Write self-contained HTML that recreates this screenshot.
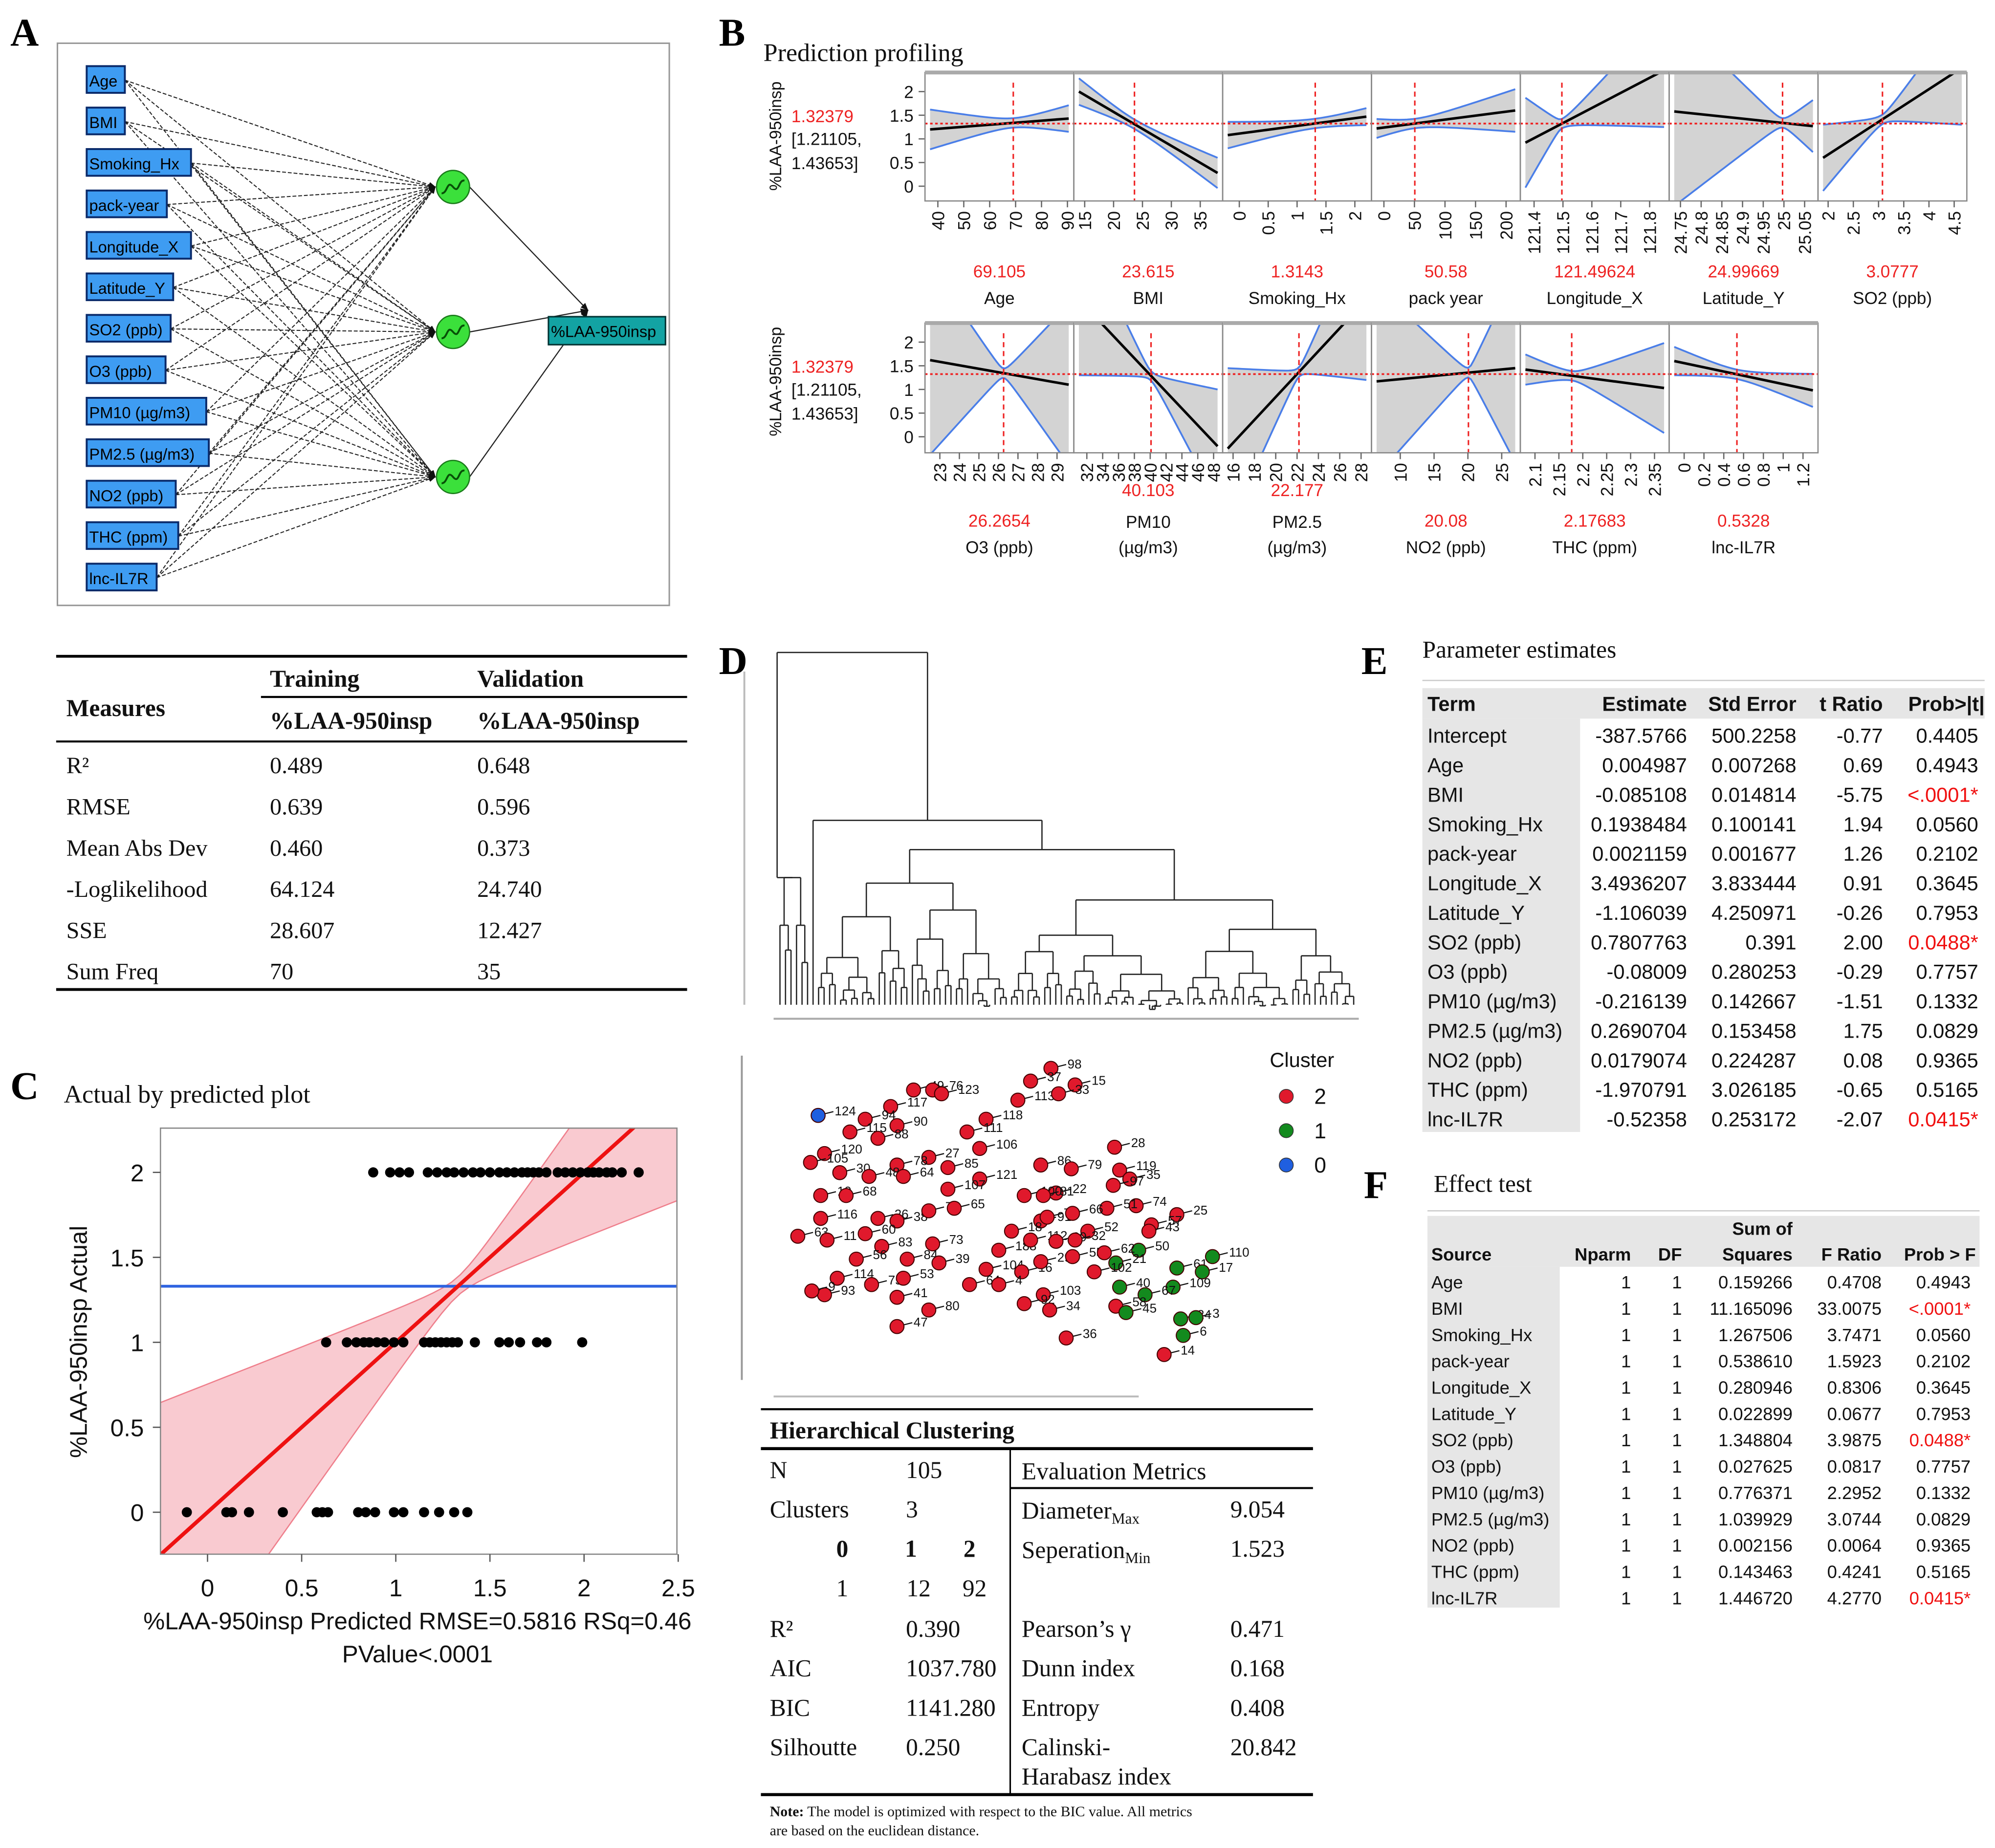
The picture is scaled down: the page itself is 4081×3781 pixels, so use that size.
<!DOCTYPE html>
<html><head><meta charset="utf-8">
<style>
html,body{margin:0;padding:0;background:#fff;}
svg{display:block;}
</style></head>
<body>
<svg id="fig" width="4081" height="3781" viewBox="0 0 1568 1453" xmlns="http://www.w3.org/2000/svg">
<rect x="0" y="0" width="1568" height="1453" fill="#fff"/>
</svg>
<script>
const NS='http://www.w3.org/2000/svg';
const svg=document.getElementById('fig');
function mk(tag,attrs,parent,text){const e=document.createElementNS(NS,tag);for(const k in attrs)e.setAttribute(k,attrs[k]);if(text!==undefined)e.textContent=text;(parent||svg).appendChild(e);return e;}
function txt(x,y,s,size,opt,parent){opt=opt||{};const a={x:x,y:y,'font-size':size,'font-family':opt.serif?'"Liberation Serif",serif':'"Liberation Sans","DejaVu Sans",sans-serif',fill:opt.fill||'#111'};if(opt.anchor)a['text-anchor']=opt.anchor;if(opt.weight)a['font-weight']=opt.weight;if(opt.tr)a.transform=opt.tr;return mk('text',a,parent,s);}

/* ---------- panel letters ---------- */
const letters=[['A',8,36],['B',565,36],['C',8,864],['D',565,530],['E',1070,530],['F',1072,942]];
letters.forEach(l=>{const t=txt(l[1],l[2],l[0],31,{serif:1,weight:'bold',fill:'#000'});

});

/* ---------- Panel A network ---------- */
const gA=mk('g',{});


mk('rect',{x:45,y:34,width:481,height:442,fill:'#fff',stroke:'#999','stroke-width':1.2},gA);
const inputs=['Age','BMI','Smoking_Hx','pack-year','Longitude_X','Latitude_Y','SO2 (ppb)','O3 (ppb)','PM10 (µg/m3)','PM2.5 (µg/m3)','NO2 (ppb)','THC (ppm)','lnc-IL7R'];
const inW=[30,30,82,63,82,68,66,62,94,96,70,72,55];
const hidden=[147,261,375];
mk('defs',{},svg).innerHTML='<marker id="arr" viewBox="0 0 10 10" refX="9" refY="5" markerWidth="7" markerHeight="7" orient="auto"><path d="M0,1 L10,5 L0,9 z" fill="#111"/></marker>';
inputs.forEach((s,i)=>{const cy=63+i*32.6;hidden.forEach(hy=>{mk('line',{x1:68+inW[i],y1:cy,x2:342,y2:hy,stroke:'#222','stroke-width':0.8,'stroke-dasharray':'3,1.5','marker-end':'url(#arr)'},gA);});});
inputs.forEach((s,i)=>{const cy=63+i*32.6;const g=mk('g',{},gA);


mk('rect',{x:68,y:cy-11,width:inW[i],height:21,fill:'#3e9cf2',stroke:'#0a2a6a','stroke-width':1.5},g);
txt(70,cy+5,s,12.5,{fill:'#000'},g);});
hidden.forEach((hy,i)=>{const g=mk('g',{},gA);


mk('line',{x1:369,y1:hy,x2:462,y2:244,stroke:'#222','stroke-width':0.9,'marker-end':'url(#arr)'},g);
mk('circle',{cx:356,cy:hy,r:13,fill:'#3be03b',stroke:'#1a7a1a','stroke-width':1},g);
mk('path',{d:`M${347},${hy+5} C${352},${hy+5} ${351},${hy-6} ${356},${hy} S${360},${hy-6} ${365},${hy-5}`,fill:'none',stroke:'#075007','stroke-width':1.5},g);});
const outB=mk('g',{},gA);


mk('rect',{x:431,y:249,width:92,height:22,fill:'#13a3a3',stroke:'#033','stroke-width':1.2},outB);
txt(433,265,'%LAA-950insp',12.5,{fill:'#000'},outB);

/* ---------- Table A ---------- */
const gT=mk('g',{});


mk('line',{x1:44,y1:516,x2:540,y2:516,stroke:'#000','stroke-width':2.2},gT);
mk('line',{x1:205,y1:548,x2:540,y2:548,stroke:'#000','stroke-width':1.6},gT);
mk('line',{x1:44,y1:583,x2:540,y2:583,stroke:'#000','stroke-width':1.6},gT);
mk('line',{x1:44,y1:778,x2:540,y2:778,stroke:'#000','stroke-width':2.2},gT);
txt(212,540,'Training',19,{serif:1,weight:'bold'},gT);txt(375,540,'Validation',19,{serif:1,weight:'bold'},gT);
txt(52,563,'Measures',19,{serif:1,weight:'bold'},gT);
txt(212,573,'%LAA-950insp',19,{serif:1,weight:'bold'},gT);txt(375,573,'%LAA-950insp',19,{serif:1,weight:'bold'},gT);
const mRows=[['R²','0.489','0.648'],['RMSE','0.639','0.596'],['Mean Abs Dev','0.460','0.373'],['-Loglikelihood','64.124','24.740'],['SSE','28.607','12.427'],['Sum Freq','70','35']];
mRows.forEach((r,i)=>{const y=608+i*32.4;txt(52,y,r[0],18.5,{serif:1},gT);txt(212,y,r[1],18.5,{serif:1},gT);txt(375,y,r[2],18.5,{serif:1},gT);});

/* ---------- Panel C actual by predicted ---------- */
const predRow2=[0.88,0.97,1.02,1.07,1.17,1.22,1.27,1.31,1.36,1.41,1.45,1.5,1.55,1.59,1.63,1.67,1.7,1.73,1.76,1.8,1.86,1.9,1.94,1.98,2.02,2.05,2.08,2.12,2.15,2.2,2.29];
const predRow1=[0.63,0.74,0.79,0.83,0.86,0.9,0.94,0.99,1.04,1.15,1.18,1.21,1.24,1.27,1.3,1.33,1.42,1.55,1.6,1.66,1.75,1.8,1.99];
const predRow0=[-0.11,0.1,0.13,0.22,0.4,0.58,0.61,0.64,0.8,0.84,0.89,0.99,1.04,1.15,1.23,1.31,1.38];
const actualLevels=[2,1,0];
const meanActual=1.33;
const cXTicks=[0,0.5,1,1.5,2,2.5];
const cYTicks=[0,0.5,1,1.5,2];
const cx=v=>163+v*148, cy=v=>1189-v*133.6;
const gC=mk('g',{});


txt(50,867,'Actual by predicted plot',20,{serif:1},gC);
mk('clipPath',{id:'clipC'},gC).innerHTML='<rect x="126" y="887" width="406" height="335"/>';
const pc=mk('g',{'clip-path':'url(#clipC)'},gC);
let up=[],lo=[];for(let i=0;i<=60;i++){const x=-0.3+i*2.9/60;const hw=Math.sqrt(0.003+0.32*(x-1.33)*(x-1.33));up.push([cx(x),cy(x+hw)]);lo.push([cx(x),cy(x-hw)]);}
const band=mk('polygon',{points:up.concat(lo.reverse()).map(p=>p.join(',')).join(' '),fill:'#f7b8c0','fill-opacity':0.75,stroke:'#ef7f8c','stroke-width':1},pc);


const hl=mk('line',{x1:126,x2:532,y1:cy(meanActual),y2:cy(meanActual),stroke:'#2e63e0','stroke-width':2.2},pc);


const fl=mk('line',{x1:cx(-0.3),y1:cy(-0.3),x2:cx(2.6),y2:cy(2.6),stroke:'#e11','stroke-width':3},pc);


[predRow2,predRow1,predRow0].forEach((row,k)=>row.forEach(v=>{const d=mk('circle',{cx:cx(v),cy:cy(actualLevels[k]),r:4,fill:'#000'},pc);

}));
mk('rect',{x:126,y:887,width:406,height:335,fill:'none',stroke:'#888','stroke-width':1},gC);
cXTicks.forEach(t=>{mk('line',{x1:cx(t),x2:cx(t),y1:1222,y2:1228,stroke:'#555'},gC);txt(cx(t),1255,String(t),19,{anchor:'middle'},gC);});
cYTicks.forEach(t=>{mk('line',{x1:120,x2:126,y1:cy(t),y2:cy(t),stroke:'#555'},gC);txt(113,cy(t)+7,String(t),19,{anchor:'end'},gC);});
txt(68,1055,'%LAA-950insp Actual',19,{anchor:'middle',tr:'rotate(-90 68 1055)'},gC);
txt(328,1281,'%LAA-950insp Predicted RMSE=0.5816 RSq=0.46',19,{anchor:'middle'},gC);
txt(328,1307,'PValue<.0001',19,{anchor:'middle'},gC);

/* ---------- Panel B prediction profiler ---------- */
const profNames=['Age','BMI','Smoking_Hx','pack year','Longitude_X','Latitude_Y','SO2 (ppb)','O3 (ppb)','PM10','PM2.5','NO2 (ppb)','THC (ppm)','lnc-IL7R'];
const profCurrent=[69.105,23.615,1.3143,50.58,121.49624,24.99669,3.0777,26.2654,40.103,22.177,20.08,2.17683,0.5328];
const profCurLabel=['69.105','23.615','1.3143','50.58','121.49624','24.99669','3.0777','26.2654','40.103','22.177','20.08','2.17683','0.5328'];
const profMin=[37,14,-0.2,-12,121.37,24.735,1.9,22.5,31,15.5,6.5,2.08,-0.1];
const profMax=[90.5,38,2.2,215,121.85,25.07,4.65,29.6,48.5,28.5,27,2.37,1.3];
const profYLeft=[1.2,2.0,1.08,1.22,0.92,1.58,0.6,1.62,2.9,-0.25,1.17,1.42,1.6];
const profYRight=[1.43,0.28,1.47,1.6,2.45,1.27,2.5,1.1,-0.2,2.9,1.45,1.03,0.98];
const profHwLeft=[0.42,0.28,0.28,0.2,0.95,2.0,0.7,2.0,1.6,1.7,2.0,0.32,0.3];
const profHwRight=[0.28,0.32,0.18,0.45,1.2,0.55,1.2,1.7,1.2,1.7,2.0,0.95,0.35];
const profTicks=[[40,50,60,70,80,90],[15,20,25,30,35],[0,0.5,1,1.5,2],[0,50,100,150,200],[121.4,121.5,121.6,121.7,121.8],[24.75,24.8,24.85,24.9,24.95,25,25.05],[2,2.5,3,3.5,4,4.5],[23,24,25,26,27,28,29],[32,34,36,38,40,42,44,46,48],[16,18,20,22,24,26,28],[10,15,20,25],[2.1,2.15,2.2,2.25,2.3,2.35],[0,0.2,0.4,0.6,0.8,1,1.2]];
const profYTicks=[0,0.5,1,1.5,2];
const predMean=1.32379;
const gB=mk('g',{});


txt(600,48,'Prediction profiling',20,{serif:1},gB);
[57,254].forEach((top,r)=>{
 txt(614,(r?300:107),'%LAA-950insp',13,{anchor:'middle',tr:`rotate(-90 614 ${r?300:107})`},gB);
 txt(622,top+39,'1.32379',13.5,{fill:'#e22'},gB);txt(622,top+57,'[1.21105,',13.5,{},gB);txt(622,top+76,'1.43653]',13.5,{},gB);
 const ys=v=>top+15+(2-v)*37.2;
 profYTicks.forEach(t=>{mk('line',{x1:722,x2:727,y1:ys(t),y2:ys(t),stroke:'#666'},gB);txt(718,ys(t)+5,String(t),13.5,{anchor:'end'},gB);});
});
profNames.forEach((nm,i)=>{
 const r=i<7?0:1, col=r?i-7:i, top=r?254:57, H=r?102:101, x0=727+col*117, W=117;
 const ys=v=>top+15+(2-v)*37.2;
 const xs=v=>x0+4+(v-profMin[i])/(profMax[i]-profMin[i])*(W-8);
 const g=mk('g',{},gB);
 
 
 mk('clipPath',{id:'cp'+i},g).innerHTML=`<rect x="${x0}" y="${top}" width="${W}" height="${H}"/>`;
 const cg=mk('g',{'clip-path':`url(#cp${i})`},g);
 const xc=profCurrent[i], a=profMin[i], b=profMax[i];
 const yAt=x=>profYLeft[i]+(profYRight[i]-profYLeft[i])*(x-a)/(b-a);
 const h0=0.1;
 const kL=Math.sqrt(Math.max(profHwLeft[i]**2-h0*h0,0))/(xc-a), kR=Math.sqrt(Math.max(profHwRight[i]**2-h0*h0,0))/(b-xc);
 let U=[],L=[];for(let s=0;s<=50;s++){const x=a+(b-a)*s/50;const k=x<xc?kL:kR;const hw=Math.sqrt(h0*h0+(k*(x-xc))**2);U.push([xs(x),ys(yAt(x)+hw)]);L.push([xs(x),ys(yAt(x)-hw)]);}
 mk('polygon',{points:U.concat(L.slice().reverse()).map(p=>p.join(',')).join(' '),fill:'#d3d3d3'},cg);
 mk('polyline',{points:U.map(p=>p.join(',')).join(' '),fill:'none',stroke:'#4a7ee8','stroke-width':1.4},cg);
 mk('polyline',{points:L.map(p=>p.join(',')).join(' '),fill:'none',stroke:'#4a7ee8','stroke-width':1.4},cg);
 mk('line',{x1:xs(a),y1:ys(yAt(a)),x2:xs(b),y2:ys(yAt(b)),stroke:'#000','stroke-width':2},cg);
 mk('line',{x1:x0,x2:x0+W,y1:ys(predMean),y2:ys(predMean),stroke:'#e22','stroke-width':1.4,'stroke-dasharray':'2,2'},cg);
 mk('line',{x1:xs(xc),x2:xs(xc),y1:top+8,y2:top+H,stroke:'#e22','stroke-width':1.2,'stroke-dasharray':'4,3'},cg);
 mk('rect',{x:x0,y:top,width:W,height:H,fill:'none',stroke:'#888','stroke-width':1},g);
 mk('line',{x1:x0,x2:x0+W,y1:top,y2:top,stroke:'#aaa','stroke-width':3},g);
 profTicks[i].forEach(t=>{const xx=xs(t);mk('line',{x1:xx,x2:xx,y1:top+H,y2:top+H+5,stroke:'#666'},g);
  txt(xx+5,top+H+8,String(t),13.5,{anchor:'end',tr:`rotate(-90 ${xx+5} ${top+H+8})`},g);});
 const cxm=x0+W/2;
 if(nm==='PM10'||nm==='PM2.5'){txt(cxm,390,profCurLabel[i],13.5,{anchor:'middle',fill:'#e22'},g);txt(cxm,415,nm,13.5,{anchor:'middle'},g);txt(cxm,435,'(µg/m3)',13.5,{anchor:'middle'},g);}
 else{const yv=r?414:218, yn=r?435:239;txt(cxm,yv,profCurLabel[i],13.5,{anchor:'middle',fill:'#e22'},g);txt(cxm,yn,nm,13.5,{anchor:'middle'},g);}
});

/* ---------- Panel D dendrogram ---------- */
const gD=mk('g',{});


const nLeaves=105;
const clusterSizes=[6,1,98];
const lx=i=>613+i*(1064-613)/(nLeaves-1);
const splitFr=[0.5,0.3,0.62,0.42,0.55,0.36,0.48,0.66,0.4,0.58];
let sc=0;
function tree(lo,hi,y){
 if(hi-lo===1)return [lx(lo),790];
 const n=hi-lo;let m=lo+Math.max(1,Math.min(n-1,Math.round(n*splitFr[(sc++)%splitFr.length])));
 const step=(790-y)*(n>20?0.2:0.28)+2;
 const A=tree(lo,m,y+step*(1+((sc%3)*0.25))), B=tree(m,hi,y+step*(1+(((sc+1)%3)*0.25)));
 mk('line',{x1:A[0],x2:A[0],y1:A[1],y2:y,stroke:'#222','stroke-width':1},gD);
 mk('line',{x1:B[0],x2:B[0],y1:B[1],y2:y,stroke:'#222','stroke-width':1},gD);
 mk('line',{x1:A[0],x2:B[0],y1:y,y2:y,stroke:'#222','stroke-width':1},gD);
 return [(A[0]+B[0])/2,y];
}
const cA=tree(0,clusterSizes[0],690);
const cB=[lx(6),790];
const cC=tree(7,nLeaves,668);
mk('line',{x1:cB[0],x2:cB[0],y1:790,y2:645,stroke:'#222'},gD);
mk('line',{x1:cC[0],x2:cC[0],y1:cC[1],y2:645,stroke:'#222'},gD);
mk('line',{x1:cB[0],x2:cC[0],y1:645,y2:645,stroke:'#222'},gD);
const mid=(cB[0]+cC[0])/2;
const rootL=cA[0]-12;
mk('line',{x1:rootL,x2:cA[0],y1:cA[1],y2:cA[1],stroke:'#222'},gD);
mk('line',{x1:rootL,x2:rootL,y1:cA[1],y2:513,stroke:'#222'},gD);
mk('line',{x1:mid,x2:mid,y1:645,y2:513,stroke:'#222'},gD);
mk('line',{x1:rootL,x2:mid,y1:513,y2:513,stroke:'#222'},gD);
mk('line',{x1:608,x2:1068,y1:801,y2:801,stroke:'#aaa','stroke-width':1.5},gD);
mk('line',{x1:585,x2:585,y1:528,y2:790,stroke:'#bbb','stroke-width':1.5},gD);

/* ---------- Panel D scatter ---------- */
const ptLabel=[98,37,15,113,33,49,76,123,117,94,90,118,111,124,115,88,106,27,78,85,28,120,105,86,79,119,35,121,97,30,48,64,107,22,10,68,100,81,74,51,25,116,26,38,72,65,57,43,63,11,60,91,77,52,66,18,110,73,83,84,39,56,188,112,99,32,61,17,50,21,104,16,29,55,62,102,114,75,53,64,40,109,67,93,9,41,4,103,92,34,58,45,24,3,6,80,47,36,14];
const dim1=[2.26,2.1,2.45,2.0,2.32,1.18,1.33,1.4,1.0,0.8,1.05,1.75,1.6,0.43,0.68,0.9,1.7,1.3,1.05,1.45,2.76,0.48,0.37,2.18,2.42,2.8,2.88,1.7,2.75,0.6,0.83,1.1,1.45,2.3,0.45,0.65,2.05,2.2,2.93,2.7,3.25,0.45,0.9,1.05,1.3,1.5,3.05,3.03,0.27,0.5,0.8,2.18,2.23,2.55,2.43,1.95,3.53,1.33,0.93,1.13,1.38,0.73,1.85,2.1,2.3,2.45,3.25,3.45,2.95,2.77,1.75,2.03,2.18,2.43,2.68,2.6,0.58,0.85,1.1,1.62,2.8,3.22,3.0,0.48,0.38,1.05,1.85,2.2,2.05,2.25,2.77,2.85,3.28,3.4,3.3,1.3,1.05,2.38,3.15];
const dim2=[0.1,0.2,0.23,0.35,0.3,0.27,0.27,0.3,0.4,0.5,0.55,0.5,0.6,0.47,0.6,0.65,0.73,0.8,0.86,0.88,0.72,0.77,0.84,0.86,0.89,0.9,0.97,0.97,1.02,0.92,0.95,0.95,1.05,1.08,1.1,1.1,1.1,1.1,1.18,1.2,1.25,1.28,1.28,1.3,1.22,1.2,1.33,1.38,1.42,1.45,1.4,1.3,1.27,1.38,1.24,1.38,1.58,1.48,1.5,1.6,1.63,1.6,1.53,1.45,1.46,1.45,1.67,1.7,1.53,1.63,1.68,1.7,1.62,1.58,1.55,1.7,1.75,1.8,1.75,1.8,1.82,1.82,1.88,1.88,1.85,1.9,1.8,1.88,1.95,2.0,1.97,2.02,2.07,2.06,2.2,2.0,2.13,2.22,2.35];
const ptCluster=[2,2,2,2,2,2,2,2,2,2,2,2,2,0,2,2,2,2,2,2,2,2,2,2,2,2,2,2,2,2,2,2,2,2,2,2,2,2,2,2,2,2,2,2,2,2,2,2,2,2,2,2,2,2,2,2,1,2,2,2,2,2,2,2,2,2,1,1,1,1,2,2,2,2,2,2,2,2,2,2,1,1,1,2,2,2,2,2,2,2,2,1,1,1,1,2,2,2,2];
const clusterColors={2:'#e0192c',1:'#138a1e',0:'#1f5fe0'};
const sx=v=>600+v*100, sy=v=>830+v*100;
const gS=mk('g',{});


mk('line',{x1:583,x2:583,y1:830,y2:1085,stroke:'#999','stroke-width':1.5},gS);
mk('line',{x1:608,x2:895,y1:1098,y2:1098,stroke:'#bbb','stroke-width':1.5},gS);
ptLabel.forEach((lb,i)=>{const px=sx(dim1[i]),py=sy(dim2[i]);const g=mk('g',{},gS);
 
 
 mk('line',{x1:px,y1:py,x2:px+12,y2:py-3,stroke:'#111','stroke-width':0.9},g);
 mk('circle',{cx:px,cy:py,r:5.5,fill:clusterColors[ptCluster[i]],stroke:'#400','stroke-width':0.8},g);
 txt(px+13,py,String(lb),10,{},g);});
const gL=mk('g',{});


txt(998,839,'Cluster',16,{},gL);
[[2,862],[1,889],[0,916]].forEach(c=>{mk('circle',{cx:1011,cy:c[1],r:5.5,fill:clusterColors[c[0]],stroke:'#333','stroke-width':0.6},gL);txt(1033,c[1]+6,String(c[0]),17,{},gL);});

/* ---------- Panel D table ---------- */
const gH=mk('g',{});


mk('line',{x1:598,x2:1032,y1:1108,y2:1108,stroke:'#000','stroke-width':1.6},gH);
txt(605,1131,'Hierarchical Clustering',19,{serif:1,weight:'bold'},gH);
mk('line',{x1:598,x2:1032,y1:1139,y2:1139,stroke:'#000','stroke-width':2.4},gH);
mk('line',{x1:794,x2:794,y1:1140,y2:1410,stroke:'#000','stroke-width':1.2},gH);
mk('line',{x1:794,x2:1032,y1:1170,y2:1170,stroke:'#000','stroke-width':1.6},gH);
mk('line',{x1:598,x2:1032,y1:1411,y2:1411,stroke:'#000','stroke-width':2.4},gH);
const F={serif:1};
txt(605,1162,'N',19,F,gH);txt(712,1162,'105',19,F,gH);
txt(605,1193,'Clusters',19,F,gH);txt(712,1193,'3',19,F,gH);
txt(662,1224,'0',19,{serif:1,weight:'bold',anchor:'middle'},gH);txt(716,1224,'1',19,{serif:1,weight:'bold',anchor:'middle'},gH);txt(762,1224,'2',19,{serif:1,weight:'bold',anchor:'middle'},gH);
txt(662,1255,'1',19,{serif:1,anchor:'middle'},gH);txt(722,1255,'12',19,{serif:1,anchor:'middle'},gH);txt(766,1255,'92',19,{serif:1,anchor:'middle'},gH);
[['R²','0.390',1287],['AIC','1037.780',1318],['BIC','1141.280',1349],['Silhoutte','0.250',1380]].forEach(r=>{txt(605,r[2],r[0],19,F,gH);txt(712,r[2],r[1],19,F,gH);});
txt(803,1163,'Evaluation Metrics',19,F,gH);
const dm=txt(803,1194,'Diameter',19,F,gH);mk('tspan',{'font-size':12,dy:4},dm,'Max');
const sp=txt(803,1225,'Seperation',19,F,gH);mk('tspan',{'font-size':12,dy:4},sp,'Min');
txt(967,1193,'9.054',19,F,gH);txt(967,1224,'1.523',19,F,gH);
[['Pearson’s γ','0.471',1287],['Dunn index','0.168',1318],['Entropy','0.408',1349],['Calinski-','20.842',1380]].forEach(r=>{txt(803,r[2],r[0],19,F,gH);txt(967,r[2],r[1],19,F,gH);});
txt(803,1403,'Harabasz index',19,F,gH);
const nt=txt(605,1428,'',11.5,F,gH);mk('tspan',{'font-weight':'bold'},nt,'Note:');mk('tspan',{},nt,' The model is optimized with respect to the BIC value. All metrics');
txt(605,1443,'are based on the euclidean distance.',11.5,F,gH);

/* ---------- Panel E ---------- */
const peTerms=['Intercept','Age','BMI','Smoking_Hx','pack-year','Longitude_X','Latitude_Y','SO2 (ppb)','O3 (ppb)','PM10 (µg/m3)','PM2.5 (µg/m3)','NO2 (ppb)','THC (ppm)','lnc-IL7R'];
const peEst=['-387.5766','0.004987','-0.085108','0.1938484','0.0021159','3.4936207','-1.106039','0.7807763','-0.08009','-0.216139','0.2690704','0.0179074','-1.970791','-0.52358'];
const peSE=['500.2258','0.007268','0.014814','0.100141','0.001677','3.833444','4.250971','0.391','0.280253','0.142667','0.153458','0.224287','3.026185','0.253172'];
const peT=['-0.77','0.69','-5.75','1.94','1.26','0.91','-0.26','2.00','-0.29','-1.51','1.75','0.08','-0.65','-2.07'];
const peP=['0.4405','0.4943','<.0001*','0.0560','0.2102','0.3645','0.7953','0.0488*','0.7757','0.1332','0.0829','0.9365','0.5165','0.0415*'];
const gE=mk('g',{});


txt(1118,517,'Parameter estimates',19,{serif:1},gE);
mk('line',{x1:1118,x2:1560,y1:535,y2:535,stroke:'#ccc'},gE);
mk('rect',{x:1118,y:541,width:442,height:24,fill:'#e6e6e6'},gE);
mk('rect',{x:1118,y:565,width:124,height:325,fill:'#e6e6e6'},gE);
const eh=[['Term',1122,'start'],['Estimate',1326,'end'],['Std Error',1412,'end'],['t Ratio',1480,'end'],['Prob>|t|',1560,'end']];
eh.forEach(h=>txt(h[1],559,h[0],16,{weight:'bold',anchor:h[2]},gE));
peTerms.forEach((t,i)=>{const y=584+i*23.2;txt(1122,y,t,16,{},gE);txt(1326,y,peEst[i],16,{anchor:'end'},gE);txt(1412,y,peSE[i],16,{anchor:'end'},gE);txt(1480,y,peT[i],16,{anchor:'end'},gE);txt(1555,y,peP[i],16,{anchor:'end',fill:peP[i].includes('*')?'#f01010':'#111'},gE);});

/* ---------- Panel F ---------- */
const efSS=['0.159266','11.165096','1.267506','0.538610','0.280946','0.022899','1.348804','0.027625','0.776371','1.039929','0.002156','0.143463','1.446720'];
const efF=['0.4708','33.0075','3.7471','1.5923','0.8306','0.0677','3.9875','0.0817','2.2952','3.0744','0.0064','0.4241','4.2770'];
const efP=['0.4943','<.0001*','0.0560','0.2102','0.3645','0.7953','0.0488*','0.7757','0.1332','0.0829','0.9365','0.5165','0.0415*'];
const gF=mk('g',{});


txt(1127,937,'Effect test',19,{serif:1},gF);
mk('line',{x1:1122,x2:1556,y1:952,y2:952,stroke:'#ccc'},gF);
mk('rect',{x:1122,y:956,width:434,height:40,fill:'#e6e6e6'},gF);
mk('rect',{x:1122,y:996,width:104,height:268,fill:'#e6e6e6'},gF);
txt(1125,991,'Source',14,{weight:'bold'},gF);txt(1282,991,'Nparm',14,{weight:'bold',anchor:'end'},gF);txt(1322,991,'DF',14,{weight:'bold',anchor:'end'},gF);
txt(1409,971,'Sum of',14,{weight:'bold',anchor:'end'},gF);txt(1409,991,'Squares',14,{weight:'bold',anchor:'end'},gF);
txt(1479,991,'F Ratio',14,{weight:'bold',anchor:'end'},gF);txt(1553,991,'Prob > F',14,{weight:'bold',anchor:'end'},gF);
peTerms.slice(1).forEach((t,i)=>{const y=1013+i*20.7;txt(1125,y,t,14,{},gF);txt(1282,y,'1',14,{anchor:'end'},gF);txt(1322,y,'1',14,{anchor:'end'},gF);txt(1409,y,efSS[i],14,{anchor:'end'},gF);txt(1479,y,efF[i],14,{anchor:'end'},gF);txt(1549,y,efP[i],14,{anchor:'end',fill:efP[i].includes('*')?'#f01010':'#111'},gF);});
</script>
</body></html>
